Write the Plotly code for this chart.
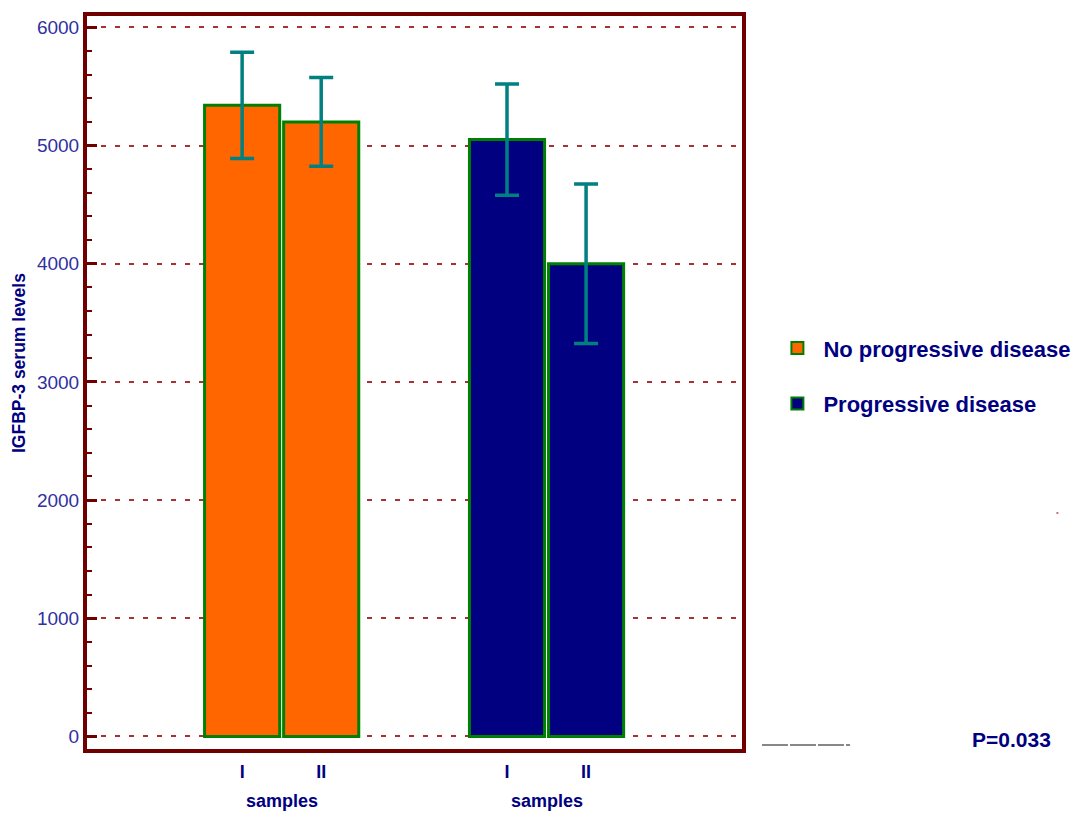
import plotly.graph_objects as go

# ---- data ----
groups = ["No progressive disease", "Progressive disease"]
samples = ["I", "II"]
means_no_prog = [5340, 5200]
errs_no_prog = [450, 375]
means_prog = [5050, 4000]
errs_prog = [470, 675]
y_ticks = [0, 1000, 2000, 3000, 4000, 5000, 6000]
p_text = "P=0.033"
y_title = "IGFBP-3 serum levels"
x_group_label = "samples"

# ---- styling ----
GROUP_STEP = 3.35
BAR_W = 0.95
fill_colors = ["#FF6600", "#000080"]
NAVY = "#000080"
FRAME = "#700000"
GRID = "#A83232"
ERR = "#008080"
EDGE = "#008000"
FONT = "Liberation Sans, Arial, sans-serif"

series = [(means_no_prog, errs_no_prog), (means_prog, errs_prog)]

fig = go.Figure()
tickvals, ticktext = [], []
for g, (name, (m, e)) in enumerate(zip(groups, series)):
    xs = [g * GROUP_STEP + s for s in range(len(samples))]
    tickvals += xs
    ticktext += samples
    fig.add_trace(go.Bar(
        x=xs, y=m, name=f"<b>{name}</b>", width=BAR_W, legendgroup=name,
        marker=dict(color=fill_colors[g], line=dict(color=EDGE, width=3)),
        error_y=dict(type="data", array=e, color=ERR, thickness=3.5, width=12),
    ))
    fig.add_annotation(
        x=sum(xs) / len(xs), xref="x", y=0, yref="paper", yanchor="top",
        yshift=-40, text=f"<b>{x_group_label}</b>", showarrow=False,
        font=dict(family=FONT, size=18, color=NAVY),
    )

fig.add_annotation(
    x=-0.1038, xref="paper", y=0.5266, yref="paper", xanchor="center", yanchor="middle",
    text=f"<b>{y_title}</b>", textangle=-90, showarrow=False,
    font=dict(family=FONT, size=17.5, color=NAVY),
)
fig.add_annotation(
    x=1.412, xref="paper", y=0.0123, yref="paper", xanchor="center", yanchor="middle",
    text=f"<b>{p_text}</b>", showarrow=False,
    font=dict(family=FONT, size=21, color=NAVY),
)
fig.add_shape(type="line", xref="paper", yref="paper",
              x0=1.0305, x1=1.165, y0=0.0055, y1=0.0055,
              line=dict(color="#606060", width=1.5, dash="26px,2px"))
fig.add_shape(type="line", xref="paper", yref="paper",
              x0=1.480, x1=1.483, y0=0.322, y1=0.322,
              line=dict(color="#C04040", width=1.5))

# the page body adds an 8px offset; margins compensate so the frame sits at x 83-746, y 12-753
fig.update_layout(
    width=1078, height=806,
    margin=dict(l=79, r=344, t=8, b=65),
    plot_bgcolor="white", paper_bgcolor="white",
    barmode="overlay",
    showlegend=True,
    legend=dict(x=1.0449, xanchor="left", y=0.5755, yanchor="top",
                tracegroupgap=24, itemsizing="constant", itemwidth=42,
                font=dict(family=FONT, size=22, color=NAVY),
                bgcolor="rgba(0,0,0,0)"),
    font=dict(family=FONT),
)

fig.update_xaxes(
    range=[-1.962, 6.322], tickvals=tickvals, ticktext=[f"<b>{t}</b>" for t in ticktext],
    tickfont=dict(family=FONT, size=18, color=NAVY), ticks="",
    showline=True, linecolor=FRAME, linewidth=4, mirror=True,
    showgrid=False, zeroline=False, ticklabelstandoff=3, automargin=False,
)
fig.update_yaxes(
    range=[-106, 6096], tickvals=y_ticks,
    tickfont=dict(family=FONT, size=19, color="#3030A0"),
    ticks="inside", ticklen=10, tickwidth=3, tickcolor=FRAME,
    minor=dict(dtick=200, ticks="inside", ticklen=5, tickwidth=2, tickcolor=FRAME, showgrid=False),
    showline=True, linecolor=FRAME, linewidth=4, mirror=True,
    showgrid=True, gridcolor=GRID, gridwidth=1.5, griddash="5px,9px",
    zeroline=False, automargin=False,
)

fig.write_html("out.html")
